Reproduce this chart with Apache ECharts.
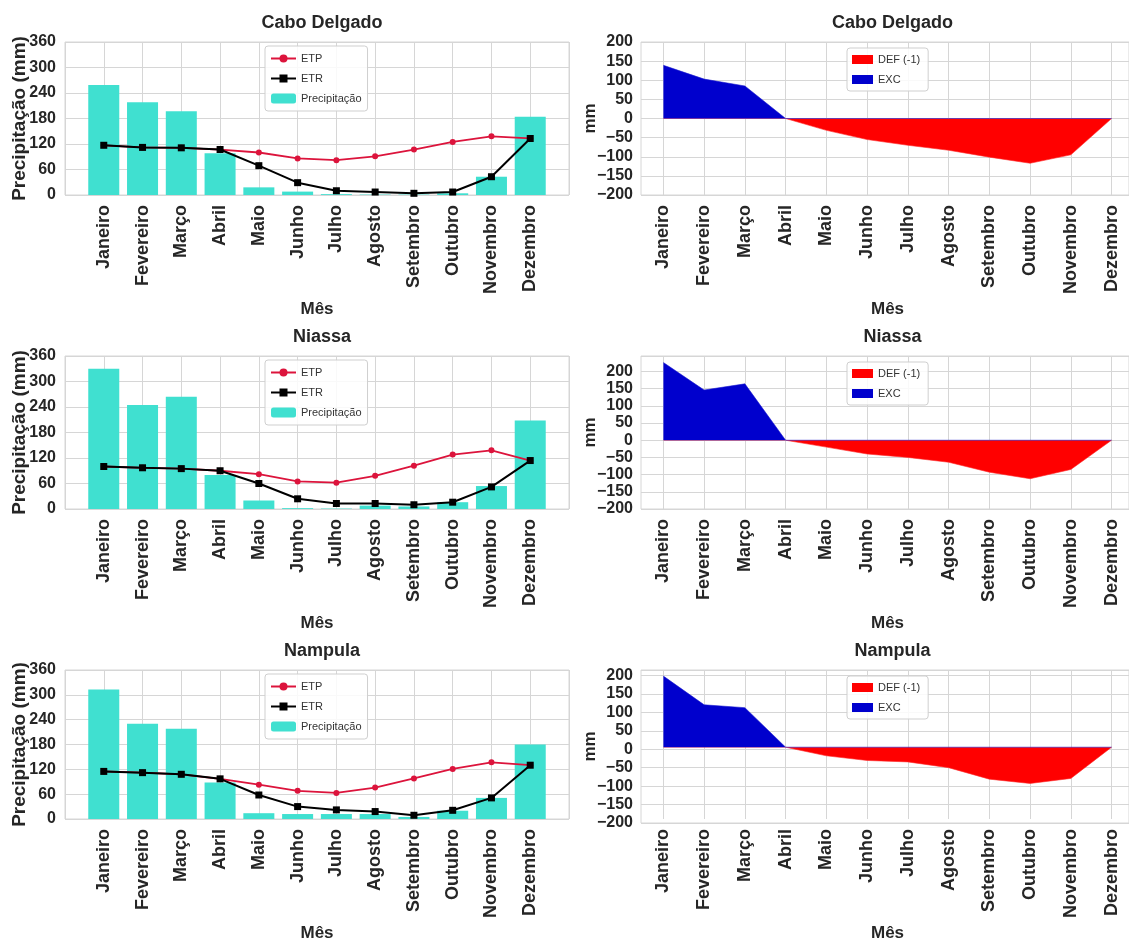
<!DOCTYPE html>
<html>
<head>
<meta charset="utf-8">
<script src="https://cdn.jsdelivr.net/npm/echarts@6/dist/echarts.min.js"></script>
<style>
  html, body { margin: 0; padding: 0; background: #ffffff; }
  #chart { width: 1129px; height: 943px; }
</style>
</head>
<body>
<div id="chart"></div>
<script>
// Monthly water balance for three provinces (mm)
const months = ['Janeiro', 'Fevereiro', 'Março', 'Abril', 'Maio', 'Junho',
                'Julho', 'Agosto', 'Setembro', 'Outubro', 'Novembro', 'Dezembro'];
const provinceNames = ['Cabo Delgado', 'Niassa', 'Nampula'];

// Cabo Delgado
const caboPrec = [259, 218, 197, 98, 18, 8, 2, 1, 1, 4, 43, 184];
const caboEtp  = [117, 112, 111, 107, 100, 86, 82, 91, 107, 125, 138, 133];
const caboEtr  = [117, 112, 111, 107, 69, 29, 10, 7, 4, 7, 43, 133];
const caboExc  = [139, 103, 85, 0, 0, 0, 0, 0, 0, 0, 0, 0];
const caboDef  = [0, 0, 0, 0, -31, -55, -70, -83, -101, -117, -95, 0];

// Niassa
const niassaPrec = [330, 245, 264, 80, 20, 2, 1, 8, 6, 16, 54, 208];
const niassaEtp  = [100, 97, 95, 90, 82, 65, 62, 78, 102, 128, 138, 114];
const niassaEtr  = [100, 97, 95, 90, 60, 24, 13, 13, 10, 16, 52, 114];
const niassaExc  = [226, 146, 164, 0, 0, 0, 0, 0, 0, 0, 0, 0];
const niassaDef  = [0, 0, 0, 0, -20, -40, -50, -64, -93, -112, -85, 0];

// Nampula
const nampulaPrec = [313, 230, 218, 88, 14, 12, 12, 12, 5, 20, 51, 180];
const nampulaEtp  = [115, 112, 108, 97, 83, 68, 63, 76, 98, 121, 137, 130];
const nampulaEtr  = [115, 112, 108, 97, 58, 30, 22, 18, 9, 21, 51, 130];
const nampulaExc  = [198, 118, 110, 0, 0, 0, 0, 0, 0, 0, 0, 0];
const nampulaDef  = [0, 0, 0, 0, -24, -37, -41, -57, -89, -101, -87, 0];

// Axis limits
const precAxis = { min: 0, max: 360, interval: 60 };
const balanceAxisMin = -200;
const balanceAxisMax = [200, 245, 215];
const balanceInterval = 50;

const rows = [
  { prec: caboPrec, etp: caboEtp, etr: caboEtr, exc: caboExc, def: caboDef },
  { prec: niassaPrec, etp: niassaEtp, etr: niassaEtr, exc: niassaExc, def: niassaDef },
  { prec: nampulaPrec, etp: nampulaEtp, etr: nampulaEtr, exc: nampulaExc, def: nampulaDef }
];

// ---- layout & style ----
const FONT = 'Liberation Sans, Arial, Helvetica, sans-serif';
const INK = '#262626';
const LINE = '#d6d6d6';
const rowTop = [42, 356, 670];
const plotH = 153;

// left panels: x from -1 to 12 so month i sits at value i
const LP = { left: 65, width: 504, xmin: -1, xmax: 12 };
// right panels: frame spans -0.55 .. 11.55 months
const RP = { left: 641, width: 493, pad: 0.55 };
const rUnit = RP.width / (11 + 2 * RP.pad);
const rInnerLeft = RP.left + RP.pad * rUnit;
const rInnerWidth = 11 * rUnit;

const tickFont = { fontFamily: FONT, fontWeight: 'bold', fontSize: 16, color: INK };
const nameFont = { fontFamily: FONT, fontWeight: 'bold', fontSize: 17, color: INK };
const yNameFont = { fontFamily: FONT, fontWeight: 'bold', fontSize: 19, color: INK };
const monthFont = { fontFamily: FONT, fontWeight: 'bold', fontSize: 18, color: INK };
const minusSign = v => String(v).replace('-', '\u2212');

const grid = [], xAxis = [], yAxis = [], series = [], title = [], legend = [];

rows.forEach((row, r) => {
  const top = rowTop[r];

  // ---------- left: precipitation / ETP / ETR ----------
  const gl = grid.length;
  grid.push({ left: LP.left, top: top, width: LP.width, height: plotH,
              show: true, borderColor: LINE, borderWidth: 1, backgroundColor: '#ffffff' });
  xAxis.push({
    gridIndex: gl, type: 'value', min: LP.xmin, max: LP.xmax, interval: 1,
    axisLine: { show: false }, axisTick: { show: false },
    splitLine: { show: true, lineStyle: { color: LINE, width: 1 } },
    axisLabel: Object.assign({ rotate: 90, margin: 10,
      formatter: v => months[Math.round(v)] || '' }, monthFont),
    name: 'Mês', nameLocation: 'middle', nameGap: 106, nameTextStyle: nameFont
  });
  yAxis.push({
    gridIndex: gl, type: 'value', min: precAxis.min, max: precAxis.max, interval: precAxis.interval,
    axisLine: { show: false }, axisTick: { show: false },
    splitLine: { show: true, lineStyle: { color: LINE, width: 1 } },
    axisLabel: Object.assign({ margin: 9 }, tickFont),
    name: 'Precipitação (mm)', nameLocation: 'middle', nameGap: 36, nameRotate: 90,
    nameMoveOverlap: false, nameTextStyle: yNameFont
  });
  const barPx = 0.8 * LP.width / (LP.xmax - LP.xmin);
  series.push({
    type: 'bar', name: 'Precipitação', xAxisIndex: gl, yAxisIndex: gl,
    barWidth: barPx, itemStyle: { color: '#40e0d0' },
    data: row.prec.map((v, i) => [i, v]), z: 2
  });
  series.push({
    type: 'line', name: 'ETP', xAxisIndex: gl, yAxisIndex: gl,
    symbol: 'circle', symbolSize: 6, color: '#dc143c',
    itemStyle: { color: '#dc143c' }, lineStyle: { color: '#dc143c', width: 1.8 },
    data: row.etp.map((v, i) => [i, v]), z: 3
  });
  series.push({
    type: 'line', name: 'ETR', xAxisIndex: gl, yAxisIndex: gl,
    symbol: 'rect', symbolSize: 7, color: '#000000',
    itemStyle: { color: '#000000' }, lineStyle: { color: '#000000', width: 2 },
    data: row.etr.map((v, i) => [i, v]), z: 4
  });
  title.push({
    text: provinceNames[r], left: LP.left + LP.width / 2, top: top - 33, textAlign: 'center',
    textStyle: { fontFamily: FONT, fontWeight: 'bold', fontSize: 18, color: INK }
  });
  legend.push({
    orient: 'vertical', left: 265, top: top + 4,
    data: ['ETP', 'ETR', 'Precipitação'],
    itemWidth: 25, itemHeight: 10, itemGap: 9,
    padding: [7, 6, 7, 5], borderColor: '#cfcfcf', borderWidth: 1, borderRadius: 3,
    backgroundColor: 'rgba(255,255,255,0.85)',
    textStyle: { fontFamily: FONT, fontSize: 11, color: '#333333' },
    selectedMode: false
  });

  // ---------- right: excess / deficit ----------
  const bMax = balanceAxisMax[r];
  const go = grid.length;
  grid.push({ left: RP.left, top: top, width: RP.width, height: plotH,
              show: true, borderColor: LINE, borderWidth: 1, backgroundColor: '#ffffff' });
  xAxis.push({ gridIndex: go, type: 'value', min: 0, max: 1, show: false });
  yAxis.push({
    gridIndex: go, type: 'value', min: balanceAxisMin, max: bMax, interval: balanceInterval,
    axisLine: { show: false }, axisTick: { show: false },
    splitLine: { show: true, lineStyle: { color: LINE, width: 1 } },
    axisLabel: Object.assign({ margin: 8, showMaxLabel: bMax % balanceInterval === 0,
      formatter: minusSign }, tickFont),
    name: 'mm', nameLocation: 'middle', nameGap: 42, nameRotate: 90,
    nameMoveOverlap: false, nameTextStyle: nameFont
  });
  const gi = grid.length;
  grid.push({ left: rInnerLeft, top: top, width: rInnerWidth, height: plotH });
  xAxis.push({
    gridIndex: gi, type: 'category', data: months, boundaryGap: false,
    axisLine: { show: false }, axisTick: { show: false },
    splitLine: { show: true, interval: 0, lineStyle: { color: LINE, width: 1 } },
    axisLabel: Object.assign({ rotate: 90, margin: 10, interval: 0 }, monthFont),
    name: 'Mês', nameLocation: 'middle', nameGap: 106, nameTextStyle: nameFont
  });
  yAxis.push({ gridIndex: gi, type: 'value', min: balanceAxisMin, max: bMax,
               interval: balanceInterval, show: false });
  series.push({
    type: 'line', name: 'DEF (-1)', xAxisIndex: gi, yAxisIndex: gi,
    symbol: 'none', color: '#ff0000', itemStyle: { color: '#ff0000' },
    lineStyle: { width: 0.6, color: '#ff2a2a' },
    areaStyle: { color: '#ff0000', opacity: 1, origin: 0 },
    data: row.def, z: 2
  });
  series.push({
    type: 'line', name: 'EXC', xAxisIndex: gi, yAxisIndex: gi,
    symbol: 'none', color: '#0000cd', itemStyle: { color: '#0000cd' },
    lineStyle: { width: 0.6, color: '#1a1ad0' },
    areaStyle: { color: '#0000cd', opacity: 1, origin: 0 },
    data: row.exc, z: 3
  });
  title.push({
    text: provinceNames[r], left: RP.left + RP.width / 2, top: top - 33, textAlign: 'center',
    textStyle: { fontFamily: FONT, fontWeight: 'bold', fontSize: 18, color: INK }
  });
  legend.push({
    orient: 'vertical', left: 847, top: top + 6,
    data: [{ name: 'DEF (-1)', icon: 'rect' }, { name: 'EXC', icon: 'rect' }],
    itemWidth: 21, itemHeight: 9, itemGap: 9,
    padding: [6, 8, 6, 5], borderColor: '#cfcfcf', borderWidth: 1, borderRadius: 3,
    backgroundColor: 'rgba(255,255,255,0.85)',
    textStyle: { fontFamily: FONT, fontSize: 11, color: '#333333' },
    selectedMode: false
  });
});

const chart = echarts.init(document.getElementById('chart'), null, { renderer: 'canvas' });
chart.setOption({
  animation: false,
  backgroundColor: '#ffffff',
  textStyle: { fontFamily: FONT },
  title: title,
  legend: legend,
  grid: grid,
  xAxis: xAxis,
  yAxis: yAxis,
  series: series
});
</script>
</body>
</html>
